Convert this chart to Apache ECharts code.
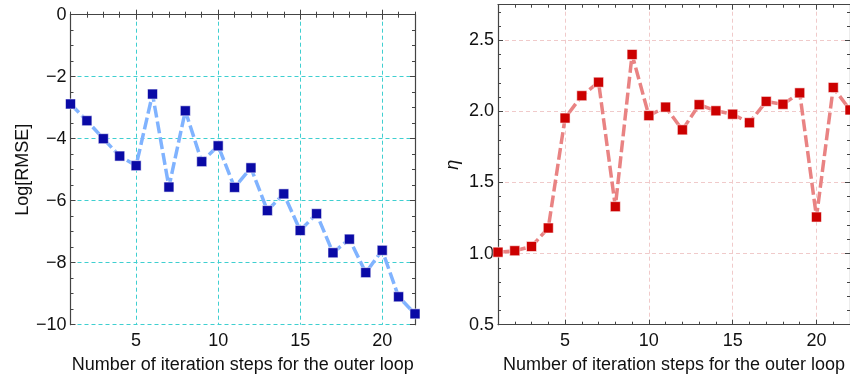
<!DOCTYPE html>
<html><head><meta charset="utf-8">
<script src="https://cdn.jsdelivr.net/npm/echarts@6/dist/echarts.min.js"></script>
<style>html,body{margin:0;padding:0;background:#fff}#c{width:850px;height:381px}</style>
</head><body><div id="c"></div>
<script>
const steps = [1,2,3,4,5,6,7,8,9,10,11,12,13,14,15,16,17,18,19,20,21,22];
const logRmse = [-2.88,-3.42,-4.0,-4.56,-4.87,-2.56,-5.56,-3.1,-4.74,-4.23,-5.57,-4.94,-6.32,-5.78,-6.96,-6.42,-7.68,-7.24,-8.32,-7.6,-9.1,-9.65];
const eta = [1.01,1.02,1.05,1.18,1.953,2.11,2.205,1.33,2.40,1.97,2.03,1.87,2.047,2.004,1.98,1.92,2.07,2.05,2.13,1.257,2.168,2.01];
const xMajorTicks = [5,10,15,20];
const xLabel = 'Number of iteration steps for the outer loop';

const FONT = 'Liberation Sans, Arial, sans-serif';
const AX = '#444';

function xAxesFor(grid, gridColor){
  const base = {type:'value', gridIndex:grid, min:1, max:22};
  return [
    Object.assign({}, base, {position:'bottom',
      axisLine:{show:true,lineStyle:{color:AX,width:1.2}},
      axisTick:{show:true,inside:true,length:5,customValues:xMajorTicks,lineStyle:{color:AX}},
      axisLabel:{show:true,customValues:xMajorTicks,fontSize:18,color:'#111',fontFamily:FONT,margin:7},
      splitLine:{show:true,lineStyle:{color:gridColor,type:[4,3],width:1}},
      name:xLabel,nameLocation:'middle',nameGap:31,
      nameTextStyle:{fontSize:18,color:'#111',fontFamily:FONT}}),
    Object.assign({}, base, {position:'top',
      axisLine:{show:true,lineStyle:{color:AX,width:1.2}},
      axisTick:{show:true,inside:true,length:5,customValues:xMajorTicks,lineStyle:{color:AX}},
      axisLabel:{show:false},splitLine:{show:false}}),
    Object.assign({}, base, {position:'bottom',interval:1,
      axisLine:{show:false},
      axisTick:{show:true,inside:true,length:3,lineStyle:{color:AX}},
      axisLabel:{show:false},splitLine:{show:false}}),
    Object.assign({}, base, {position:'top',interval:1,
      axisLine:{show:false},
      axisTick:{show:true,inside:true,length:3,lineStyle:{color:AX}},
      axisLabel:{show:false},splitLine:{show:false}})
  ];
}

function yAxesFor(grid, min, max, interval, minor, gridColor, name, nameGap, fmt, nameStyle){
  const base = {type:'value', gridIndex:grid, min:min, max:max};
  return [
    Object.assign({}, base, {position:'left',interval:interval,
      axisLine:{show:true,lineStyle:{color:AX,width:1.2}},
      axisTick:{show:true,inside:true,length:5,lineStyle:{color:AX}},
      axisLabel:{show:true,fontSize:18,color:'#111',fontFamily:FONT,margin:4,formatter:fmt,showMaxLabel:max%interval===0},
      splitLine:{show:true,lineStyle:{color:gridColor,type:[4,3],width:1}},
      name:name,nameLocation:'middle',nameGap:nameGap,
      nameTextStyle:Object.assign({fontSize:18,color:'#111',fontFamily:FONT},nameStyle||{})}),
    Object.assign({}, base, {position:'right',interval:interval,
      axisLine:{show:true,lineStyle:{color:AX,width:1.2}},
      axisTick:{show:true,inside:true,length:5,lineStyle:{color:AX}},
      axisLabel:{show:false},splitLine:{show:false}}),
    Object.assign({}, base, {position:'left',interval:minor,
      axisLine:{show:false},
      axisTick:{show:true,inside:true,length:3,lineStyle:{color:AX}},
      axisLabel:{show:false},splitLine:{show:false}}),
    Object.assign({}, base, {position:'right',interval:minor,
      axisLine:{show:false},
      axisTick:{show:true,inside:true,length:3,lineStyle:{color:AX}},
      axisLabel:{show:false},splitLine:{show:false}})
  ];
}

const chart = echarts.init(document.getElementById('c'), null, {renderer:'canvas'});
chart.setOption({
  animation:false,
  backgroundColor:'#fff',
  grid:[
    {left:70.5, top:14.7, width:344.5, height:310},
    {left:498, top:4.7, width:355.6, height:320}
  ],
  xAxis: xAxesFor(0,'#3fcfd0').concat(xAxesFor(1,'#f0caca')),
  yAxis: yAxesFor(0,-10,0,2,0.5,'#3fcfd0','Log[RMSE]',38,
           v => v < 0 ? '\u2212' + (-v) : String(v))
         .concat(yAxesFor(1,0.5,2.75,0.5,0.1,'#f0caca','η',36,
           v => v.toFixed(1), {fontStyle:'italic'})),
  series:[
    {type:'line', xAxisIndex:0, yAxisIndex:0,
     data: steps.map((s,i)=>[s,logRmse[i]]),
     symbol:'rect', symbolSize:10,
     lineStyle:{color:'#80b3ff',width:3.5,type:[12,4]},
     itemStyle:{color:'#0a0aa6',borderColor:'rgba(255,255,255,0.7)',borderWidth:0.8}},
    {type:'line', xAxisIndex:4, yAxisIndex:4,
     data: steps.map((s,i)=>[s,eta[i]]),
     symbol:'rect', symbolSize:10,
     lineStyle:{color:'#e98383',width:3.5,type:[12,4]},
     itemStyle:{color:'#cc0000',borderColor:'rgba(255,255,255,0.7)',borderWidth:0.8}}
  ]
});
</script></body></html>
